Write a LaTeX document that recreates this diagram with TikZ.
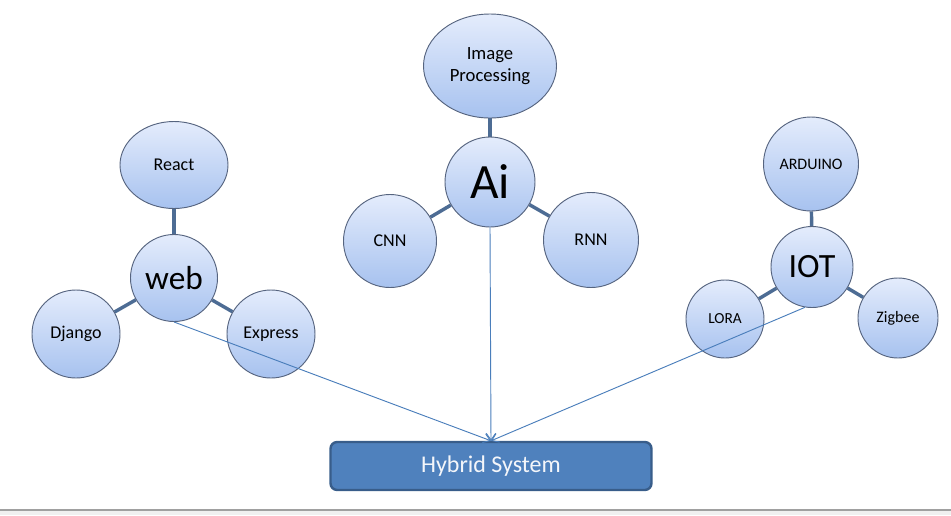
\documentclass[tikz,border=0pt]{standalone}
\usepackage{fontspec}
\setmainfont{Carlito}
\usetikzlibrary{shapes.geometric,arrows.meta,backgrounds}
\definecolor{bubtop}{HTML}{E4ECFC}
\definecolor{bubbot}{HTML}{A7C2EF}
\definecolor{bubline}{HTML}{56647F}
\definecolor{linkc}{HTML}{4D6C94}
\definecolor{arrowc}{HTML}{4A7EBB}
\definecolor{boxfill}{HTML}{4F81BD}
\definecolor{boxline}{HTML}{385D8A}
\definecolor{boxtext}{HTML}{F4F6FA}
\definecolor{stripline}{HTML}{A0A0A0}
\definecolor{stripfill}{HTML}{F0F0F0}
\begin{document}
\begin{tikzpicture}[x=0.75pt,y=-0.75pt,
  bub/.style={ellipse, draw=bubline, line width=0.7pt, top color=bubtop, bottom color=bubbot,
    inner sep=0pt, align=center, text=black},
  bsize/.style 2 args={minimum width=#1*0.75pt, minimum height=#2*0.75pt},
  fs/.style={font=\fontsize{#1}{#1}\selectfont},
  link/.style={draw=linkc, line width=2.6pt},
  flow/.style={draw=arrowc, line width=0.7pt, -{Straight Barb[length=5pt,width=7pt]}},
  hub/.style={rectangle, rounded corners=5pt, fill=boxfill, draw=boxline, line width=1.8pt,
    text=boxtext, inner sep=0pt}]
\useasboundingbox (0,0) rectangle (951,515);
\fill[stripfill] (0,511) rectangle (951,515);
\draw[stripline, line width=1.1pt] (0,510) -- (951,510);

% web group
\node[bub, bsize={108}{87}, fs=13.5] (react) at (174,165) {React};
\node[bub, bsize={87}{87}, fs=25] (web) at (174,278) {web};
\node[bub, bsize={88}{88}, fs=13.5] (django) at (76,334) {Django};
\node[bub, bsize={88}{88}, fs=13.5] (express) at (271,334) {Express};

% Ai group
\node[bub, bsize={133}{104}, fs=14] (ip) at (490,66) {Image\\[3pt]Processing};
\node[bub, bsize={90}{90}, fs=37] (ai) at (490,182) {Ai};
\node[bub, bsize={93}{93}, fs=13.5] (cnn) at (390,241) {CNN};
\node[bub, bsize={95}{95}, fs=13.5] (rnn) at (591,240) {RNN};

% IOT group
\node[bub, bsize={95}{94}, fs=12] (arduino) at (811,164) {ARDUINO};
\node[bub, bsize={82}{81}, fs=25.5] (iot) at (812,267) {IOT};
\node[bub, bsize={78}{78}, fs=11.5] (lora) at (725,319) {LORA};
\node[bub, bsize={80}{80}, fs=12] (zigbee) at (898,318) {Zigbee};

% target box
\node[hub, minimum width=321*0.75pt, minimum height=48*0.75pt, fs=18] (hybrid) at (491,466) {Hybrid System};

\begin{pgfonlayer}{background}
  \draw[link] (react) -- (web);
  \draw[link] (django) -- (web);
  \draw[link] (express) -- (web);
  \draw[link] (ip) -- (ai);
  \draw[link] (cnn) -- (ai);
  \draw[link] (rnn) -- (ai);
  \draw[link] (arduino) -- (iot);
  \draw[link] (lora) -- (iot);
  \draw[link] (zigbee) -- (iot);
\end{pgfonlayer}

\draw[flow] (web.south) -- (hybrid.north);
\draw[flow] (ai.south) -- (hybrid.north);
\draw[flow] (iot.-100) -- (hybrid.north);
\end{tikzpicture}
\end{document}
